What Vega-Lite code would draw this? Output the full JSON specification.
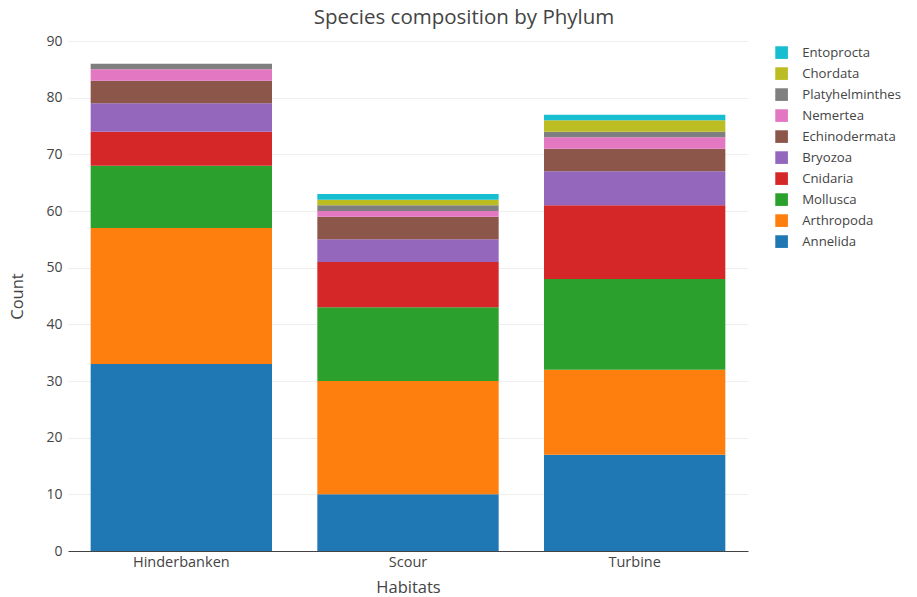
{
  "$schema": "https://vega.github.io/schema/vega-lite/v6.json",
  "width": 680,
  "height": 510,
  "autosize": {"type": "none"},
  "padding": {"left": 68, "top": 41, "right": 169, "bottom": 46},
  "background": "white",
  "title": {
    "text": "Species composition by Phylum",
    "anchor": "middle",
    "frame": "bounds",
    "font": "Open Sans",
    "fontSize": 20.5,
    "fontWeight": "normal",
    "color": "#444444",
    "offset": 6,
    "dx": 8
  },
  "config": {
    "font": "Open Sans",
    "view": {"stroke": null}
  },
  "data": {
    "values": [
      {"habitat": "Hinderbanken", "phylum": "Annelida", "rank": 1, "count": 33},
      {"habitat": "Hinderbanken", "phylum": "Arthropoda", "rank": 2, "count": 24},
      {"habitat": "Hinderbanken", "phylum": "Mollusca", "rank": 3, "count": 11},
      {"habitat": "Hinderbanken", "phylum": "Cnidaria", "rank": 4, "count": 6},
      {"habitat": "Hinderbanken", "phylum": "Bryozoa", "rank": 5, "count": 5},
      {"habitat": "Hinderbanken", "phylum": "Echinodermata", "rank": 6, "count": 4},
      {"habitat": "Hinderbanken", "phylum": "Nemertea", "rank": 7, "count": 2},
      {"habitat": "Hinderbanken", "phylum": "Platyhelminthes", "rank": 8, "count": 1},
      {"habitat": "Hinderbanken", "phylum": "Chordata", "rank": 9, "count": 0},
      {"habitat": "Hinderbanken", "phylum": "Entoprocta", "rank": 10, "count": 0},
      {"habitat": "Scour", "phylum": "Annelida", "rank": 1, "count": 10},
      {"habitat": "Scour", "phylum": "Arthropoda", "rank": 2, "count": 20},
      {"habitat": "Scour", "phylum": "Mollusca", "rank": 3, "count": 13},
      {"habitat": "Scour", "phylum": "Cnidaria", "rank": 4, "count": 8},
      {"habitat": "Scour", "phylum": "Bryozoa", "rank": 5, "count": 4},
      {"habitat": "Scour", "phylum": "Echinodermata", "rank": 6, "count": 4},
      {"habitat": "Scour", "phylum": "Nemertea", "rank": 7, "count": 1},
      {"habitat": "Scour", "phylum": "Platyhelminthes", "rank": 8, "count": 1},
      {"habitat": "Scour", "phylum": "Chordata", "rank": 9, "count": 1},
      {"habitat": "Scour", "phylum": "Entoprocta", "rank": 10, "count": 1},
      {"habitat": "Turbine", "phylum": "Annelida", "rank": 1, "count": 17},
      {"habitat": "Turbine", "phylum": "Arthropoda", "rank": 2, "count": 15},
      {"habitat": "Turbine", "phylum": "Mollusca", "rank": 3, "count": 16},
      {"habitat": "Turbine", "phylum": "Cnidaria", "rank": 4, "count": 13},
      {"habitat": "Turbine", "phylum": "Bryozoa", "rank": 5, "count": 6},
      {"habitat": "Turbine", "phylum": "Echinodermata", "rank": 6, "count": 4},
      {"habitat": "Turbine", "phylum": "Nemertea", "rank": 7, "count": 2},
      {"habitat": "Turbine", "phylum": "Platyhelminthes", "rank": 8, "count": 1},
      {"habitat": "Turbine", "phylum": "Chordata", "rank": 9, "count": 2},
      {"habitat": "Turbine", "phylum": "Entoprocta", "rank": 10, "count": 1}
    ]
  },
  "mark": {"type": "bar", "stroke": null},
  "encoding": {
    "x": {
      "field": "habitat",
      "type": "nominal",
      "sort": ["Hinderbanken", "Scour", "Turbine"],
      "scale": {"paddingInner": 0.2, "paddingOuter": 0.1},
      "axis": {
        "title": "Habitats",
        "titleFont": "Open Sans",
        "titleFontSize": 16.5,
        "titleFontWeight": "normal",
        "titleColor": "#444444",
        "titlePadding": 11,
        "labelAngle": 0,
        "labelFontSize": 14.5,
        "labelColor": "#444444",
        "labelPadding": 4,
        "ticks": false,
        "domainColor": "#444444",
        "domainWidth": 1
      }
    },
    "y": {
      "field": "count",
      "type": "quantitative",
      "stack": "zero",
      "scale": {"domain": [0, 90], "nice": false},
      "axis": {
        "title": "Count",
        "titleFont": "Open Sans",
        "titleFontSize": 16.5,
        "titleFontWeight": "normal",
        "titleColor": "#444444",
        "titlePadding": 20,
        "values": [0, 10, 20, 30, 40, 50, 60, 70, 80, 90],
        "labelFontSize": 14,
        "labelColor": "#444444",
        "labelPadding": 6,
        "ticks": false,
        "domain": false,
        "gridColor": "#eeeeee",
        "gridWidth": 1
      }
    },
    "color": {
      "field": "phylum",
      "type": "nominal",
      "scale": {
        "domain": ["Annelida", "Arthropoda", "Mollusca", "Cnidaria", "Bryozoa", "Echinodermata", "Nemertea", "Platyhelminthes", "Chordata", "Entoprocta"],
        "range": ["#1f77b4", "#ff7f0e", "#2ca02c", "#d62728", "#9467bd", "#8c564b", "#e377c2", "#7f7f7f", "#bcbd22", "#17becf"]
      },
      "legend": {
        "title": null,
        "orient": "none",
        "legendX": 707,
        "legendY": 5,
        "symbolType": "square",
        "symbolSize": 160,
        "symbolStrokeWidth": 0,
        "labelFontSize": 13.2,
        "labelColor": "#444444",
        "labelOffset": 14,
        "rowPadding": 7,
        "values": ["Entoprocta", "Chordata", "Platyhelminthes", "Nemertea", "Echinodermata", "Bryozoa", "Cnidaria", "Mollusca", "Arthropoda", "Annelida"]
      }
    },
    "order": {"field": "rank", "type": "quantitative"}
  }
}
